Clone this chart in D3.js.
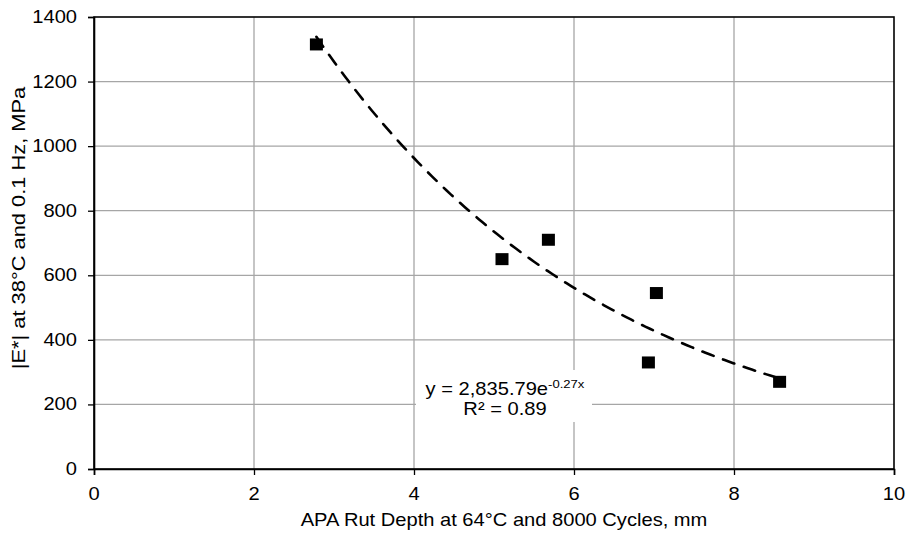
<!DOCTYPE html>
<html>
<head>
<meta charset="utf-8">
<script src="https://cdn.jsdelivr.net/npm/d3@7"></script>
<style>
  html, body { margin: 0; padding: 0; background: #fff; }
  svg { display: block; }
  text { font-family: "Liberation Sans", Arial, sans-serif; fill: #000; }
</style>
</head>
<body>
<svg id="chart" width="907" height="535"></svg>
<script>
// ---- data ----
const rutDepth = [2.78, 5.10, 5.68, 7.03, 6.93, 8.57];
const modulus  = [1315, 650, 710, 545, 330, 270];
const xTicks = [0, 2, 4, 6, 8, 10];
const yTicks = [0, 200, 400, 600, 800, 1000, 1200, 1400];
const trendA = 2835.79;
const trendB = -0.27;
const xTitle = "APA Rut Depth at 64°C and 8000 Cycles, mm";
const yTitle = "|E*| at 38°C and 0.1 Hz, MPa";
const eqLine1 = "y = 2,835.79e";
const eqSup = "-0.27x";
const eqLine2 = "R² = 0.89";

// ---- layout ----
const W = 907, H = 535;
const m = {left: 94, right: 13, top: 17, bottom: 66};
const pw = W - m.left - m.right, ph = H - m.top - m.bottom;
const SX = 1.15, FS = 17.5;

const svg = d3.select("#chart");
const g = svg.append("g").attr("transform", `translate(${m.left},${m.top})`);

const x = d3.scaleLinear().domain([0, 10]).range([0, pw]);
const y = d3.scaleLinear().domain([0, 1400]).range([ph, 0]);

// gridlines
g.append("g").selectAll("line").data(xTicks.slice(1, -1)).join("line")
  .attr("x1", d => x(d)).attr("x2", d => x(d)).attr("y1", 0).attr("y2", ph)
  .attr("stroke", "#a6a6a6").attr("stroke-width", 1.3);
g.append("g").selectAll("line").data(yTicks.slice(1, -1)).join("line")
  .attr("y1", d => y(d)).attr("y2", d => y(d)).attr("x1", 0).attr("x2", pw)
  .attr("stroke", "#a6a6a6").attr("stroke-width", 1.3);

// frame
g.append("rect").attr("x", 0).attr("y", 0).attr("width", pw).attr("height", ph)
  .attr("fill", "none").attr("stroke", "#000").attr("stroke-width", 1.6);

// axes (ticks only, labels drawn separately to allow stretch)
const xAxis = g.append("g").attr("transform", `translate(0,${ph})`)
  .call(d3.axisBottom(x).tickValues(xTicks).tickSize(6).tickFormat(""));
const yAxis = g.append("g")
  .call(d3.axisLeft(y).tickValues(yTicks).tickSize(6).tickFormat(""));
[xAxis, yAxis].forEach(a => {
  a.select(".domain").attr("stroke", "#000").attr("stroke-width", 1.6);
  a.selectAll(".tick line").attr("stroke", "#000").attr("stroke-width", 1.3);
});

function stext(parent, tx, ty, str, anchor, rot) {
  return parent.append("text")
    .attr("transform", `translate(${tx},${ty})` + (rot ? ` rotate(${rot})` : "") + ` scale(${SX},1)`)
    .attr("text-anchor", anchor)
    .attr("font-size", FS)
    .text(str);
}

// tick labels
xTicks.forEach(t => stext(g, x(t), ph + 31, d3.format("d")(t), "middle"));
yTicks.forEach(t => stext(g, -17, y(t) + 6, d3.format("d")(t), "end"));

// axis titles
stext(svg, m.left + pw / 2 + 10, 526, xTitle, "middle");
stext(svg, 25, 228, yTitle, "middle", -90).attr("font-size", 19);

// trendline
const tx0 = d3.min(rutDepth), tx1 = d3.max(rutDepth);
const trendPts = d3.range(0, 101).map(i => {
  const xv = tx0 + (tx1 - tx0) * i / 100;
  return [xv, trendA * Math.exp(trendB * xv)];
});
g.append("path")
  .attr("d", d3.line().x(d => x(d[0])).y(d => y(d[1]))(trendPts))
  .attr("fill", "none").attr("stroke", "#000").attr("stroke-width", 2.6)
  .attr("stroke-linecap", "round")
  .attr("stroke-dasharray", "12,10");

// markers
const mw = 13, mh = 12;
g.append("g").selectAll("rect").data(rutDepth.map((d, i) => [d, modulus[i]])).join("rect")
  .attr("x", d => x(d[0]) - mw / 2).attr("y", d => y(d[1]) - mh / 2)
  .attr("width", mw).attr("height", mh).attr("fill", "#000");

// equation label
const eqCx = 505 - m.left;
g.append("rect").attr("x", 416 - m.left).attr("y", 370 - m.top)
  .attr("width", 176).attr("height", 52).attr("fill", "#fff");
const t1 = g.append("text")
  .attr("transform", `translate(${eqCx},${395 - m.top}) scale(${SX},1)`)
  .attr("text-anchor", "middle").attr("font-size", FS);
t1.append("tspan").text(eqLine1);
t1.append("tspan").attr("font-size", FS * 0.65).attr("dy", -7).text(eqSup);
stext(g, eqCx, 415 - m.top, eqLine2, "middle");
</script>
</body>
</html>
